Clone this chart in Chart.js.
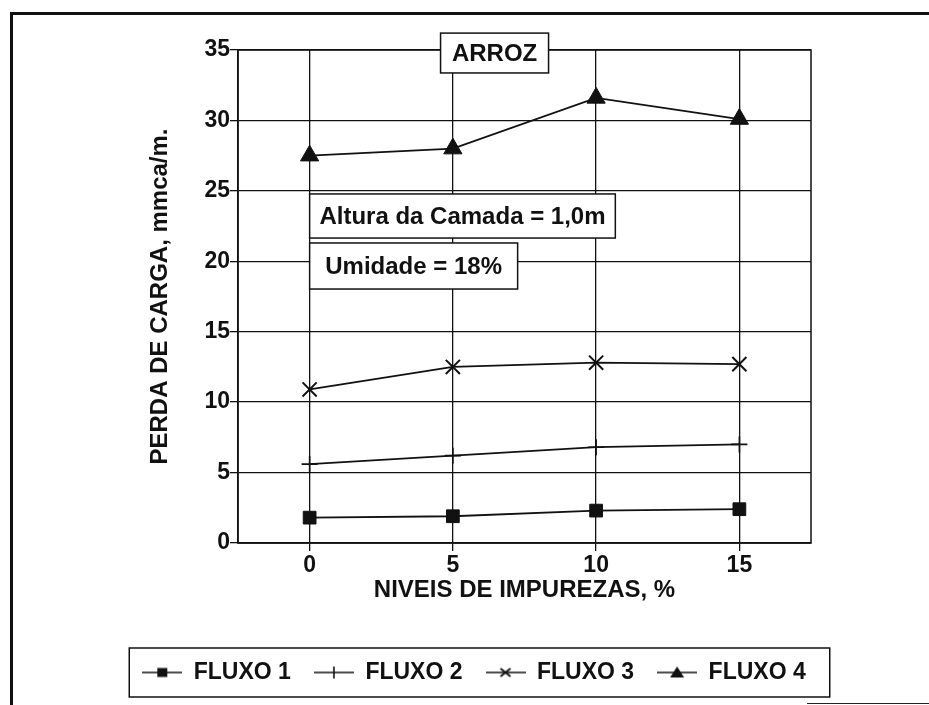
<!DOCTYPE html>
<html>
<head>
<meta charset="utf-8">
<title>Perda de carga - Arroz</title>
<script src="https://cdn.jsdelivr.net/npm/chart.js@4.4.1/dist/chart.umd.min.js"></script>
<style>
  html, body { margin: 0; padding: 0; background: #fff; overflow: hidden; }
  #wrap { position: relative; width: 929px; height: 705px; }
  #frame { position: absolute; left: 10px; top: 12px; right: 0; bottom: -10px;
           border-left: 3px solid #111; border-top: 3px solid #111; }
  #edge { position: absolute; left: 807px; top: 703px; width: 122px; height: 1px; background: #222; }
  #chart { position: absolute; left: 0; top: 0; }
</style>
</head>
<body>
<div id="wrap">
  <div id="frame"></div>
  <div id="edge"></div>
  <canvas id="chart" width="929" height="705"></canvas>
</div>
<script>
// valores
const niveis = [0, 5, 10, 15];
const fluxo1 = [1.8, 1.9, 2.3, 2.4];
const fluxo2 = [5.6, 6.2, 6.8, 7.0];
const fluxo3 = [10.9, 12.5, 12.8, 12.7];
const fluxo4 = [27.5, 28.0, 31.6, 30.1];
const seriesNames = ['FLUXO 1', 'FLUXO 2', 'FLUXO 3', 'FLUXO 4'];
const xTicks = [0, 5, 10, 15];
const yTicks = [0, 5, 10, 15, 20, 25, 30, 35];

// caixas de texto, em unidades dos eixos
const notes = [
  {text: 'ARROZ', x0: 4.57, x1: 8.34, y0: 33.37, y1: 36.2},
  {text: 'Altura da Camada = 1,0m', x0: 0, x1: 10.67, y0: 21.65, y1: 24.78},
  {text: 'Umidade = 18%', x0: 0, x1: 7.26, y0: 18.03, y1: 21.3}
];

const INK = '#111';
const FONT = "'Liberation Sans', Arial, Helvetica, sans-serif";

function legendMark(kind) {
  const c = document.createElement('canvas');
  c.width = 40; c.height = 24;
  const g = c.getContext('2d');
  g.strokeStyle = INK; g.fillStyle = INK; g.lineWidth = 1.6;
  g.beginPath(); g.moveTo(0, 12); g.lineTo(40, 12); g.stroke();
  g.beginPath();
  if (kind === 'rect') {
    g.fillRect(15, 7.5, 10, 9);
  } else if (kind === 'cross') {
    g.moveTo(20, 6); g.lineTo(20, 18); g.stroke();
  } else if (kind === 'crossRot') {
    g.lineWidth = 1.8;
    g.moveTo(15, 8); g.lineTo(25, 16); g.moveTo(25, 8); g.lineTo(15, 16); g.stroke();
  } else {
    g.moveTo(20, 6); g.lineTo(27, 17); g.lineTo(13, 17); g.closePath(); g.fill();
  }
  return c;
}

const styles = ['rect', 'cross', 'crossRot', 'triangle'];
const radii = [9, 8, 10, 10.5];
const widths = [1, 1.6, 2, 1];
const legendImgs = styles.map(legendMark);

const allSeries = [fluxo1, fluxo2, fluxo3, fluxo4];
const datasets = allSeries.map((vals, i) => ({
  label: seriesNames[i],
  data: niveis.map((x, j) => ({x: x, y: vals[j]})),
  borderColor: INK,
  borderWidth: 1.8,
  pointStyle: styles[i],
  pointRadius: radii[i],
  pointHoverRadius: radii[i],
  pointBackgroundColor: INK,
  pointBorderColor: INK,
  pointBorderWidth: widths[i],
  tension: 0,
  fill: false
}));

const plotBox = {
  id: 'plotBox',
  beforeDatasetsDraw(chart) {
    const {ctx, chartArea: a, scales} = chart;
    ctx.save();
    ctx.strokeStyle = INK;
    ctx.lineWidth = 1.5;
    ctx.strokeRect(a.left, a.top, a.right - a.left, a.bottom - a.top);

    // caixas de anotacao
    ctx.font = 'bold 24px ' + FONT;
    ctx.textAlign = 'center';
    ctx.textBaseline = 'middle';
    notes.forEach(n => {
      const l = scales.x.getPixelForValue(n.x0);
      const r = scales.x.getPixelForValue(n.x1);
      const t = scales.y.getPixelForValue(n.y1);
      const b = scales.y.getPixelForValue(n.y0);
      ctx.fillStyle = '#fff';
      ctx.fillRect(l, t, r - l, b - t);
      ctx.strokeRect(l, t, r - l, b - t);
      ctx.fillStyle = INK;
      ctx.fillText(n.text, (l + r) / 2, (t + b) / 2 + 1);
    });
    ctx.restore();
  },
  afterDraw(chart) {
    const hb = chart.legend.legendHitBoxes;
    if (!hb || !hb.length) return;
    const last = hb[hb.length - 1];
    const left = hb[0].left - 13;
    const right = last.left + last.width + 24;
    const cy = hb[0].top + hb[0].height / 2;
    const ctx = chart.ctx;
    ctx.save();
    ctx.strokeStyle = INK;
    ctx.lineWidth = 1.5;
    ctx.strokeRect(left, cy - 24.5, right - left, 49);
    ctx.restore();
  }
};

new Chart(document.getElementById('chart'), {
  type: 'line',
  data: {datasets: datasets},
  options: {
    responsive: false,
    animation: false,
    layout: {padding: {left: 19, top: 50, right: 0, bottom: 11}},
    plugins: {
      tooltip: {enabled: false},
      legend: {
        position: 'bottom',
        labels: {
          color: INK,
          font: {family: FONT, size: 23, weight: 'bold'},
          usePointStyle: true,
          pointStyleWidth: 40,
          padding: 23,
          generateLabels(chart) {
            const items = Chart.defaults.plugins.legend.labels.generateLabels(chart);
            items.forEach((it, i) => { it.pointStyle = legendImgs[i]; });
            return items;
          }
        }
      }
    },
    scales: {
      x: {
        type: 'linear',
        min: -2.5,
        max: 17.5,
        afterBuildTicks(s) { s.ticks = xTicks.map(v => ({value: v})); },
        afterFit(s) { s.height = 95; },
        ticks: {color: INK, font: {family: FONT, size: 23, weight: 'bold'}, padding: 1},
        grid: {color: INK, lineWidth: 1.3, tickLength: 8},
        border: {color: INK, width: 1.5},
        title: {
          display: true,
          text: 'NIVEIS DE IMPUREZAS, %',
          color: INK,
          font: {family: FONT, size: 24, weight: 'bold', lineHeight: 1},
          padding: {top: 0, bottom: 36}
        }
      },
      y: {
        type: 'linear',
        min: 0,
        max: 35,
        afterBuildTicks(s) { s.ticks = yTicks.map(v => ({value: v})); },
        afterFit(s) { s.width = 219; },
        ticks: {color: INK, font: {family: FONT, size: 23, weight: 'bold'}, padding: 0},
        grid: {color: INK, lineWidth: 1.3, tickLength: 8},
        border: {color: INK, width: 1.5},
        title: {
          display: true,
          text: 'PERDA DE CARGA, mmca/m.',
          color: INK,
          font: {family: FONT, size: 24, weight: 'bold', lineHeight: 1},
          padding: {top: 129, bottom: 0}
        }
      },
      yR: {
        position: 'right',
        min: 0,
        max: 35,
        afterFit(s) { s.width = 118; },
        grid: {display: false},
        ticks: {display: false},
        border: {display: false}
      }
    }
  },
  plugins: [plotBox]
});
</script>
</body>
</html>
